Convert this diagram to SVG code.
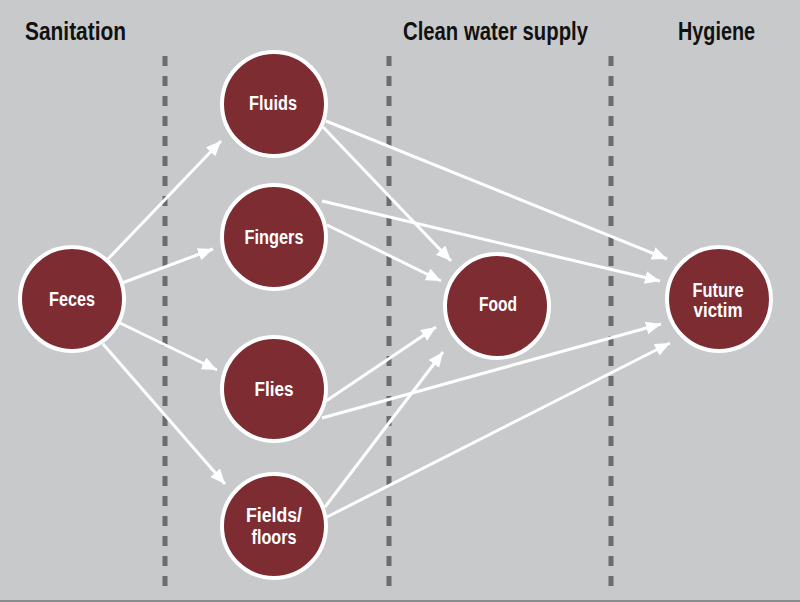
<svg xmlns="http://www.w3.org/2000/svg" width="800" height="602" viewBox="0 0 800 602">
<style>
.hdr{font-family:"Liberation Sans Narrow","Liberation Sans",Arial,sans-serif;font-weight:bold;font-size:25px;fill:#111;}
.lbl{font-family:"Liberation Sans Narrow","Liberation Sans",Arial,sans-serif;font-weight:bold;font-size:19.5px;fill:#fff;text-anchor:middle;}
.node circle{fill:#7d2c32;stroke:#fff;stroke-width:4;}
.div{stroke:#6b6c6e;stroke-width:5;stroke-dasharray:10 10;}
.edge{stroke:#fff;stroke-width:3;fill:none;marker-end:url(#ah);}
</style>
<defs>
<marker id="ah" markerUnits="userSpaceOnUse" markerWidth="16" markerHeight="14" refX="15" refY="6.5" orient="auto">
<path d="M0,0 L15,6.5 L0,13 z" fill="#fff"/>
</marker>
</defs>
<rect width="800" height="602" fill="#c8c9cb"/>
<line x1="0" y1="601" x2="800" y2="601" stroke="#8a8b8d" stroke-width="2"/>
<g id="headers">
<text class="hdr" x="25" y="40" textLength="101" lengthAdjust="spacingAndGlyphs">Sanitation</text>
<text class="hdr" x="403" y="40" textLength="185" lengthAdjust="spacingAndGlyphs">Clean water supply</text>
<text class="hdr" x="678" y="40" textLength="77" lengthAdjust="spacingAndGlyphs">Hygiene</text>
</g>
<g id="dividers">
<line class="div" x1="165" y1="56" x2="165" y2="592"/>
<line class="div" x1="389" y1="56" x2="389" y2="592"/>
<line class="div" x1="611" y1="56" x2="611" y2="592"/>
</g>
<g id="connectors">
<line class="edge" x1="108" y1="259" x2="221" y2="141"/>
<line class="edge" x1="122" y1="283" x2="213" y2="249"/>
<line class="edge" x1="120" y1="323" x2="217" y2="370"/>
<line class="edge" x1="103" y1="344" x2="225" y2="484"/>
<line class="edge" x1="323" y1="127" x2="451" y2="261"/>
<line class="edge" x1="326" y1="121" x2="667" y2="259"/>
<line class="edge" x1="327" y1="225" x2="441" y2="281"/>
<line class="edge" x1="322" y1="201" x2="660" y2="281"/>
<line class="edge" x1="326" y1="401" x2="436" y2="327"/>
<line class="edge" x1="322" y1="418" x2="661" y2="324"/>
<line class="edge" x1="325" y1="507" x2="443" y2="352"/>
<line class="edge" x1="327" y1="517" x2="670" y2="343"/>
</g>
<g id="feces" class="node"><circle cx="72" cy="299" r="52"/><text class="lbl" x="72" y="306" textLength="46" lengthAdjust="spacingAndGlyphs">Feces</text></g>
<g id="fluids" class="node"><circle cx="274" cy="104" r="52"/><text class="lbl" x="273" y="110" textLength="48" lengthAdjust="spacingAndGlyphs">Fluids</text></g>
<g id="fingers" class="node"><circle cx="274" cy="237" r="52"/><text class="lbl" x="274" y="244" textLength="59" lengthAdjust="spacingAndGlyphs">Fingers</text></g>
<g id="flies" class="node"><circle cx="274" cy="389" r="52"/><text class="lbl" x="274" y="396" textLength="39" lengthAdjust="spacingAndGlyphs">Flies</text></g>
<g id="fields" class="node"><circle cx="274" cy="526" r="52"/><text class="lbl" x="274" y="522" textLength="56" lengthAdjust="spacingAndGlyphs">Fields/</text><text class="lbl" x="274" y="544" textLength="45" lengthAdjust="spacingAndGlyphs">floors</text></g>
<g id="food" class="node"><circle cx="497" cy="306" r="52"/><text class="lbl" x="498" y="311" textLength="38" lengthAdjust="spacingAndGlyphs">Food</text></g>
<g id="victim" class="node"><circle cx="719" cy="299" r="52"/><text class="lbl" x="718" y="297" textLength="51" lengthAdjust="spacingAndGlyphs">Future</text><text class="lbl" x="718" y="317" textLength="49" lengthAdjust="spacingAndGlyphs">victim</text></g>
</svg>
